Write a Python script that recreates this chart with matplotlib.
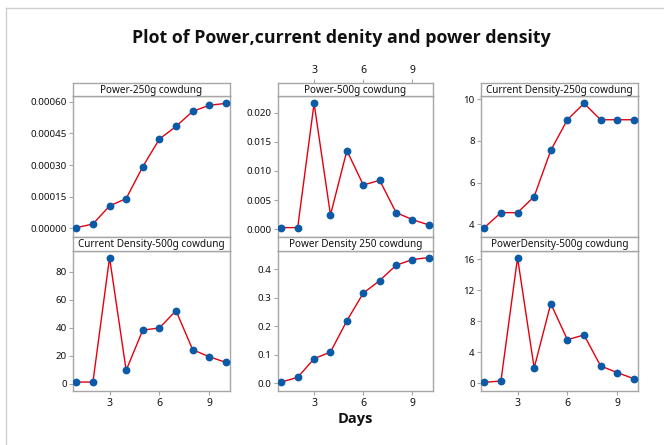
import matplotlib
matplotlib.use("Agg")
import matplotlib.pyplot as plt
from matplotlib.lines import Line2D

plt.rcParams['font.family'] = ['Noto Sans', 'DejaVu Sans']

days = [1, 2, 3, 4, 5, 6, 7, 8, 9, 10]
power_250 = [0.000003, 0.0000205, 0.000106, 0.000141, 0.000292, 0.000423, 0.000483, 0.000554, 0.000583, 0.000592]
power_500 = [0.00029, 0.00029, 0.0216, 0.00246, 0.0135, 0.0076, 0.0084, 0.00286, 0.00166, 0.00074]
cd_250 = [3.84, 4.56, 4.56, 5.33, 7.55, 9.02, 9.81, 9.02, 9.02, 9.02]
cd_500 = [1.2, 1.2, 90.3, 9.6, 38.4, 39.9, 52.3, 24.4, 19.3, 15.3]
pd_250 = [0.0035, 0.020, 0.0856, 0.109, 0.219, 0.316, 0.360, 0.414, 0.434, 0.441]
pd_500 = [0.13, 0.30, 16.2, 1.98, 10.28, 5.63, 6.24, 2.24, 1.38, 0.60]

titles = ["Power-250g cowdung", "Power-500g cowdung", "Current Density-250g cowdung",
          "Current Density-500g cowdung", "Power Density 250 cowdung", "PowerDensity-500g cowdung"]
series = [power_250, power_500, cd_250, cd_500, pd_250, pd_500]
yticks = [[0.0, 0.00015, 0.00030, 0.00045, 0.00060],
          [0.000, 0.005, 0.010, 0.015, 0.020],
          [4, 6, 8, 10],
          [0, 20, 40, 60, 80],
          [0.0, 0.1, 0.2, 0.3, 0.4],
          [0, 4, 8, 12, 16]]
yfmt = ["{:.5f}", "{:.3f}", "{:g}", "{:g}", "{:.1f}", "{:g}"]
ylims = [(-0.0000412, 0.000627), (-0.00132, 0.02286), (3.39, 10.16),
         (-5.2, 95.0), (-0.028, 0.464), (-0.99, 17.07)]
xticks = [3, 6, 9]
xlim = (0.8, 10.25)

W, H = 664, 445
fig = plt.figure(figsize=(W / 100, H / 100), dpi=100)

cols = [(73, 230), (278, 433), (481, 638)]
rows = [(83, 96, 237), (237, 251, 391)]  # strip top, strip bottom/data top, data bottom

def fx(px):
    return px / W

def fy(py):
    return 1 - py / H

edge = "#a6a6a6"
for i in range(6):
    r, c = divmod(i, 3)
    x0, x1 = cols[c]
    st, dt, db = rows[r]
    ax = fig.add_axes([fx(x0), fy(db), fx(x1) - fx(x0), fy(dt) - fy(db)])
    ax.plot(days, series[i], color="#e3000f", lw=1.0, zorder=2)
    ax.plot(days, series[i], 'o', color="#0a5aa8", ms=4.6, zorder=3)
    ax.set_xlim(*xlim)
    ax.set_ylim(*ylims[i])
    ax.set_yticks(yticks[i])
    ax.set_yticklabels([yfmt[i].format(v) for v in yticks[i]])
    for s in ax.spines.values():
        s.set_color(edge)
        s.set_linewidth(1.0)
    ax.tick_params(axis='y', direction='out', length=3, width=0.8, color=edge,
                   labelsize=7, labelcolor="#111111", pad=1.5)
    ax.set_xticks(xticks)
    if r == 1:
        ax.tick_params(axis='x', direction='out', length=3, width=0.8, color=edge,
                       labelsize=7.5, labelcolor="#111111", pad=2)
    else:
        ax.tick_params(axis='x', length=0, labelbottom=False)
    # strip
    sax = fig.add_axes([fx(x0), fy(dt), fx(x1) - fx(x0), fy(st) - fy(dt)])
    sax.set_xlim(*xlim)
    sax.set_yticks([])
    for s in sax.spines.values():
        s.set_color(edge)
        s.set_linewidth(1.0)
    if i == 1:
        sax.set_xticks(xticks)
        sax.xaxis.tick_top()
        sax.tick_params(axis='x', direction='out', length=3, width=0.8, color=edge,
                        labelsize=7.5, labelcolor="#111111", pad=2)
    else:
        sax.set_xticks([])
    sax.text(0.5, 0.45, titles[i], ha='center', va='center', fontsize=7.2,
             color="#111111", transform=sax.transAxes)

fig.text(fx(341), fy(38), "Plot of Power,current denity and power density",
         ha='center', va='center', fontsize=12.8, fontweight='bold', color="#111111",
         family=['Open Sans', 'DejaVu Sans'])
fig.text(fx(355), fy(419), "Days", ha='center', va='center', fontsize=10.5,
         fontweight='bold', color="#111111", family=['Open Sans', 'DejaVu Sans'])

fig.add_artist(Line2D([fx(6), fx(6)], [fy(8), 0], color="#cfcfcf", lw=1.0,
                      transform=fig.transFigure))
fig.add_artist(Line2D([fx(6), 1], [fy(8), fy(8)], color="#cfcfcf", lw=1.0,
                      transform=fig.transFigure))

fig.savefig("out.png", dpi=100)
